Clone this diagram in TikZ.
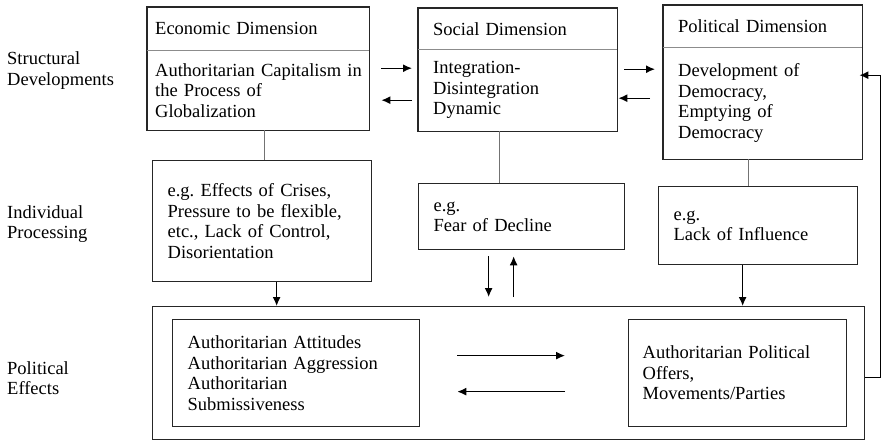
\documentclass[tikz,border=0pt]{standalone}
\usepackage{fontspec}
\setmainfont{Liberation Serif}
\usetikzlibrary{arrows.meta,calc}
\newcommand\fsz{\fontsize{18.5}{20.5}\selectfont}
\tikzset{
  txt/.style={font=\fsz, align=left, inner ysep=0pt, text=black},
  boxed/.style={txt, draw=black!85, line width=1.3pt, anchor=north west},
  plain/.style={txt, anchor=north west},
  outline/.style={draw=black!85, line width=1.3pt},
  divider/.style={draw=black!45, line width=1pt},
  thin/.style={draw=black!55, line width=1pt},
  arr/.style={draw=black, line width=1.3pt, -{Latex[length=9pt,width=8pt]}},
}
\begin{document}
\begin{tikzpicture}[x=1pt,y=-1pt]
\useasboundingbox[fill=white] (0,0) rectangle (883,441);

% row labels
\node[txt, text width=140pt, anchor=base west, inner sep=0pt] (lab1) at (7,65) {Structural\\Developments};
\node[txt, text width=140pt, anchor=base west, inner sep=0pt] (lab2) at (7,218) {Individual\\Processing};
\node[txt, text width=140pt, anchor=base west, inner sep=0pt] (lab3) at (7,374) {Political\\Effects};

% top boxes
\node[plain, minimum width=222pt, minimum height=43pt, text width=206pt, inner xsep=8pt] (econH) at (147,7) {Economic Dimension};
\node[plain, minimum width=222pt, minimum height=80pt, text width=206pt, inner xsep=8pt] (econB) at (147,50) {\mbox{Authoritarian Capitalism in}\\the Process of\\Globalization};
\draw[outline] (econH.north west) rectangle (econB.south east);
\draw[divider] (econH.south west) -- (econH.south east);

\node[plain, minimum width=199pt, minimum height=41pt, text width=169pt, inner xsep=15pt] (socH) at (418,8) {Social Dimension};
\node[plain, minimum width=199pt, minimum height=82pt, text width=169pt, inner xsep=15pt] (socB) at (418,49) {Integration-\\Disintegration\\Dynamic};
\draw[outline] (socH.north west) rectangle (socB.south east);
\draw[divider] (socH.south west) -- (socH.south east);

\node[plain, minimum width=199pt, minimum height=42pt, text width=169pt, inner xsep=15pt] (polH) at (663,5) {Political Dimension};
\node[plain, minimum width=199pt, minimum height=112pt, text width=169pt, inner xsep=15pt] (polB) at (663,47) {Development of\\Democracy,\\Emptying of\\Democracy};
\draw[outline] (polH.north west) rectangle (polB.south east);
\draw[divider] (polH.south west) -- (polH.south east);

% middle row
\node[boxed, minimum width=219pt, minimum height=121pt, text width=189pt, inner xsep=15pt] (eg) at (152,160) {\mbox{e.g.\ Effects of Crises,}\\\mbox{Pressure to be flexible,}\\\mbox{etc., Lack of Control,}\\Disorientation};
\node[boxed, minimum width=206pt, minimum height=66pt, text width=176pt, inner xsep=15pt] (fear) at (418,183) {e.g.\\Fear of Decline};
\node[boxed, minimum width=199pt, minimum height=78pt, text width=169pt, inner xsep=15pt] (lack) at (658,186) {e.g.\\Lack of Influence};

% bottom
\node[boxed, minimum width=712pt, minimum height=133pt, text width=700pt, inner xsep=6pt] (outer) at (152,306) {};
\node[boxed, minimum width=247pt, minimum height=107pt, text width=217pt, inner xsep=15pt] (innerL) at (172,319) {Authoritarian Attitudes\\\mbox{Authoritarian Aggression}\\Authoritarian\\Submissiveness};
\node[boxed, minimum width=218pt, minimum height=107pt, text width=190pt, inner xsep=14pt] (innerR) at (628,319) {\mbox{Authoritarian Political}\\Offers,\\Movements/Parties};

% horizontal arrows top row
\draw[arr] ([xshift=12pt,yshift=22pt]econB.east) -- ([xshift=-6pt,yshift=22pt]socB.west);
\draw[arr] ([xshift=-6pt,yshift=-10pt]socB.west) -- ([xshift=12pt,yshift=-10pt]econB.east);
\draw[arr] ([xshift=7pt,yshift=21pt]socB.east) -- ([xshift=-8pt,yshift=34pt]polB.west);
\draw[arr] ([xshift=-13pt,yshift=5pt]polB.west) -- ([xshift=1pt,yshift=-8pt]socB.east);

% gray connectors
\draw[thin] ([xshift=6pt]econB.south) -- ([xshift=6pt]econB.south |- eg.north);
\draw[thin] ([xshift=-18.5pt]socB.south) -- ([xshift=-18.5pt]socB.south |- fear.north);
\draw[thin] ([xshift=-14.5pt]polB.south) -- ([xshift=-14.5pt]polB.south |- lack.north);

% vertical arrows
\draw[arr] ([xshift=14.5pt]eg.south) -- ([xshift=14.5pt]eg.south |- outer.north);
\draw[arr] ($(fear.south)+(-33,6)$) -- ($(fear.south |- outer.north)+(-33,-9)$);
\draw[arr] ($(fear.south |- outer.north)+(-8,-9)$) -- ($(fear.south)+(-8,6)$);
\draw[arr] ([xshift=-15.5pt]lack.south) -- ([xshift=-15.5pt]lack.south |- outer.north);

% inner arrows
\draw[arr] ($(innerL.east)+(37,-17.5)$) -- ($(innerR.west)+(-63,-17.5)$);
\draw[arr] ($(innerR.west)+(-63,18.5)$) -- ($(innerL.east)+(37,18.5)$);

% feedback
\draw[arr] ($(outer.east)+(0,4)$) -| ($(polB.east)+(18,-28)$) -- ($(polB.east)+(-3,-28)$);
\end{tikzpicture}
\end{document}
